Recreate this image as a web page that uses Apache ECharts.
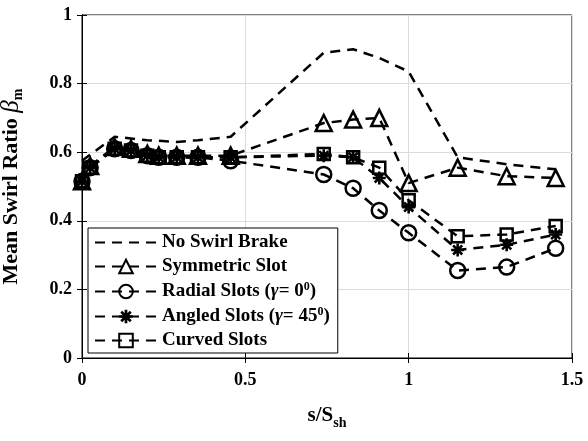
<!DOCTYPE html>
<html lang="en" style="height: 100%">
<head>
  <meta charset="utf-8" />
</head>
<body style="height: 100%; margin: 0; background: #fff">
  <div id="container" style="width: 588px; height: 441px"></div>
  <script src="https://fastly.jsdelivr.net/npm/echarts@6/dist/echarts.min.js"></script>
  <script type="text/javascript">
    // s/S_sh positions
    var xNoBrake = [0, 0.1, 0.15, 0.2, 0.29, 0.355, 0.455, 0.74, 0.83, 0.91, 1.0, 1.15, 1.3, 1.45];
    var xSlots = [0, 0.025, 0.1, 0.15, 0.2, 0.235, 0.29, 0.355, 0.455, 0.74, 0.83, 0.91, 1.0, 1.15, 1.3, 1.45];

    // mean swirl ratio values
    var noSwirlBrake = [0.575, 0.645, 0.64, 0.635, 0.63, 0.635, 0.645, 0.89, 0.9, 0.875, 0.835, 0.585, 0.565, 0.55];
    var symmetricSlot = [0.515, 0.56, 0.615, 0.61, 0.595, 0.59, 0.59, 0.59, 0.59, 0.685, 0.695, 0.70, 0.51, 0.555, 0.53, 0.525];
    var radialSlots = [0.515, 0.555, 0.61, 0.605, 0.59, 0.585, 0.585, 0.585, 0.575, 0.535, 0.495, 0.43, 0.365, 0.255, 0.265, 0.32];
    var angledSlots = [0.515, 0.555, 0.61, 0.605, 0.59, 0.585, 0.585, 0.585, 0.585, 0.59, 0.585, 0.525, 0.44, 0.315, 0.33, 0.36];
    var curvedSlots = [0.515, 0.555, 0.61, 0.605, 0.59, 0.585, 0.585, 0.585, 0.585, 0.595, 0.585, 0.555, 0.46, 0.355, 0.36, 0.385];

    var legendNames = ["No Swirl Brake", "Symmetric Slot", "Radial Slots", "Angled Slots", "Curved Slots"];

    function pairs(xs, ys) {
      return xs.map(function (x, i) { return [x, ys[i]]; });
    }

    var font = "'Liberation Serif', 'Times New Roman', serif";
    var asterisk = "path://M-1,-5L1,-5L1,5L-1,5Z M-5,-1L5,-1L5,1L-5,1Z " +
      "M-2.79,-4.21L4.21,2.79L2.79,4.21L-4.21,-2.79Z M2.79,-4.21L4.21,-2.79L-2.79,4.21L-4.21,2.79Z";

    var dash = [10, 7];
    var openStyle = { color: "rgba(255,255,255,0)", borderColor: "#000", borderWidth: 2.5 };

    function lineSeries(name, data, symbol, size, itemStyle, showSymbol) {
      return {
        name: name,
        type: "line",
        data: data,
        symbol: symbol,
        symbolSize: size,
        showSymbol: showSymbol,
        lineStyle: { color: "#000", width: 2.5, type: dash },
        itemStyle: itemStyle,
        z: 3,
      };
    }

    var dom = document.getElementById("container");
    var myChart = echarts.init(dom, null, { renderer: "canvas" });

    var axisCommon = {
      axisLine: { show: true, lineStyle: { color: "#000", width: 1 } },
      axisTick: { show: true, inside: true, length: 5, lineStyle: { color: "#000" } },
      splitLine: { show: true, lineStyle: { color: "#dcdcdc", width: 1 } },
      axisLabel: { color: "#000", fontFamily: font, fontWeight: "bold", fontSize: 18 },
    };

    var option = {
      animation: false,
      backgroundColor: "#fff",
      grid: {
        left: 82, right: 16, top: 15, bottom: 83,
        outerBoundsMode: "none",
        containLabel: false,
        show: true, borderColor: "#000", borderWidth: 1,
      },
      legend: {
        orient: "vertical",
        left: 88,
        top: 228,
        padding: [5, 8, 3, 6],
        itemGap: 5,
        itemWidth: 62,
        itemHeight: 17,
        backgroundColor: "#fff",
        borderColor: "#000",
        borderWidth: 1,
        borderRadius: 0,
        textStyle: {
          color: "#000",
          fontFamily: font,
          fontWeight: "bold",
          fontSize: 19,
          rich: {
            n: { fontFamily: font, fontWeight: "bold", fontSize: 19, lineHeight: 20, color: "#000" },
            g: { fontFamily: font, fontWeight: "bold", fontStyle: "italic", fontSize: 19, lineHeight: 20, color: "#000" },
            s: { fontFamily: font, fontWeight: "bold", fontSize: 12, color: "#000", verticalAlign: "top", padding: [0, 0, 9, 0] },
          },
        },
        formatter: function (name) {
          if (name === "Radial Slots") return "{n|Radial Slots (}{g|γ}{n|= 0}{s|0}{n|)}";
          if (name === "Angled Slots") return "{n|Angled Slots (}{g|γ}{n|= 45}{s|0}{n|)}";
          return "{n|" + name + "}";
        },
        data: legendNames,
      },
      xAxis: [
        Object.assign({}, axisCommon, {
          type: "value",
          min: 0,
          max: 1.5,
          interval: 0.5,
          name: "{a|s/S}{b|sh}",
          nameLocation: "middle",
          nameGap: 44,
          nameTextStyle: {
            rich: {
              a: { fontFamily: font, fontWeight: "bold", fontSize: 21, color: "#000" },
              b: { fontFamily: font, fontWeight: "bold", fontSize: 14, color: "#000", padding: [14, 0, 0, 0] },
            },
          },
          axisLabel: Object.assign({}, axisCommon.axisLabel, {
            margin: 13,
            formatter: function (v) { return String(Math.round(v * 10) / 10); },
          }),
        }),
        {
          type: "value", position: "top", min: 0, max: 1.5, interval: 0.5,
          axisLine: { show: true, lineStyle: { color: "#000" } },
          axisTick: { show: true, inside: true, length: 5, lineStyle: { color: "#000" } },
          axisLabel: { show: false }, splitLine: { show: false },
        },
      ],
      yAxis: [
        Object.assign({}, axisCommon, {
          type: "value",
          min: 0,
          max: 1,
          interval: 0.2,
          name: "{a|Mean Swirl Ratio }{b|β}{c|m}",
          nameLocation: "middle",
          nameRotate: 90,
          nameGap: 57,
          nameTextStyle: {
            rich: {
              a: { fontFamily: font, fontWeight: "bold", fontSize: 22, color: "#000" },
              b: { fontFamily: font, fontStyle: "italic", fontSize: 25, color: "#000" },
              c: { fontFamily: font, fontWeight: "bold", fontSize: 14, color: "#000", padding: [14, 0, 0, 0] },
            },
          },
          axisLabel: Object.assign({}, axisCommon.axisLabel, {
            margin: 10,
            formatter: function (v) { return String(Math.round(v * 10) / 10); },
          }),
        }),
        {
          type: "value", position: "right", min: 0, max: 1, interval: 0.2,
          axisLine: { show: true, lineStyle: { color: "#000" } },
          axisTick: { show: true, inside: true, length: 5, lineStyle: { color: "#000" } },
          axisLabel: { show: false }, splitLine: { show: false },
        },
      ],
      series: [
        lineSeries("No Swirl Brake", pairs(xNoBrake, noSwirlBrake), "circle", 0,
          { color: "rgba(255,255,255,0)", borderWidth: 0 }, false),
        lineSeries("Symmetric Slot", pairs(xSlots, symmetricSlot), "triangle", 16, openStyle, true),
        lineSeries("Radial Slots", pairs(xSlots, radialSlots), "circle", 15, openStyle, true),
        lineSeries("Angled Slots", pairs(xSlots, angledSlots), asterisk, 13, { color: "#000" }, true),
        lineSeries("Curved Slots", pairs(xSlots, curvedSlots), "rect", 12, openStyle, true),
      ],
    };

    myChart.setOption(option);
    window.addEventListener("resize", myChart.resize);
  </script>
</body>
</html>
